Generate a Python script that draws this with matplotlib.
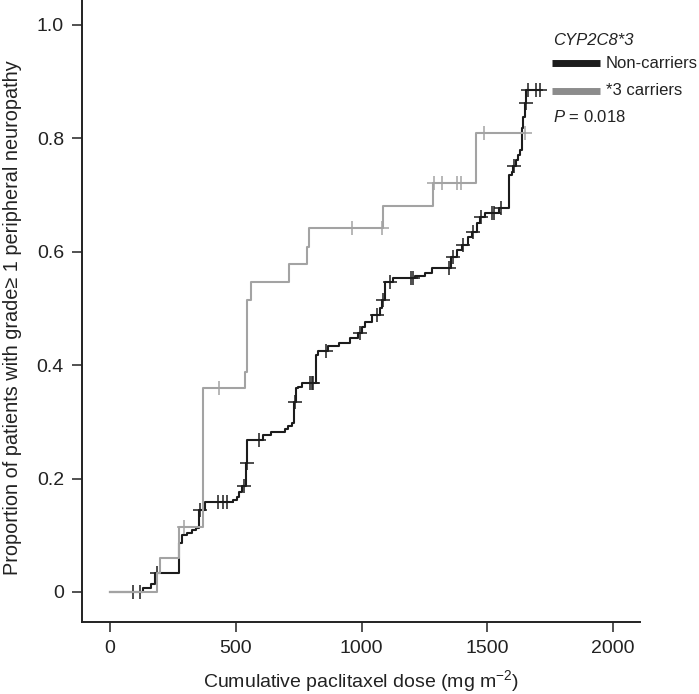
import numpy as np
import matplotlib
matplotlib.use("Agg")
import matplotlib.pyplot as plt
from matplotlib.lines import Line2D

plt.rcParams['font.family'] = ['Liberation Sans', 'DejaVu Sans']
plt.rcParams['mathtext.fontset'] = 'custom'
plt.rcParams['mathtext.rm'] = 'Liberation Sans'
plt.rcParams['mathtext.it'] = 'Liberation Sans:italic'

# non-carriers: event doses and cumulative proportion after each step
black_dose = [0, 131, 163, 179, 274, 286, 306, 326, 342, 354, 378, 489, 505, 513,
              525, 541, 545, 608, 640, 696, 708, 724, 732, 740, 748, 763, 819, 827,
              867, 911, 954, 986, 1002, 1014, 1042, 1074, 1082, 1093, 1125, 1213,
              1252, 1280, 1356, 1380, 1400, 1423, 1439, 1459, 1471, 1491, 1547,
              1586, 1598, 1602, 1614, 1622, 1630, 1638, 1642, 1650, 1654]
black_prop = [0, 0.007, 0.014, 0.034, 0.086, 0.100, 0.104, 0.109, 0.113, 0.145,
              0.159, 0.162, 0.168, 0.176, 0.187, 0.228, 0.268, 0.277, 0.282, 0.287,
              0.292, 0.298, 0.335, 0.360, 0.362, 0.368, 0.418, 0.425, 0.434, 0.439,
              0.448, 0.457, 0.468, 0.476, 0.488, 0.500, 0.515, 0.547, 0.553, 0.557,
              0.563, 0.571, 0.590, 0.603, 0.612, 0.626, 0.635, 0.650, 0.662, 0.668,
              0.677, 0.735, 0.741, 0.751, 0.762, 0.771, 0.779, 0.818, 0.838, 0.862,
              0.885]
black_censor = [91, 121, 187, 360, 429, 449, 465, 533, 543, 593, 736, 795, 803, 809,
                859, 994, 1062, 1086, 1113, 1197, 1205, 1348, 1364, 1404, 1443, 1475,
                1519, 1527, 1555, 1606, 1652, 1662, 1692, 1708]

# *3 carriers
gray_dose = [0, 187, 199, 274, 370, 537, 545, 561, 712, 783, 792, 1087, 1284, 1455]
gray_prop = [0, 0.034, 0.060, 0.115, 0.360, 0.388, 0.515, 0.547, 0.578, 0.608,
             0.642, 0.681, 0.721, 0.810]
gray_censor = [294, 433, 962, 1083, 1290, 1320, 1380, 1396, 1487, 1650]

BLACK = '#1c1c1c'
GRAY = '#a3a3a3'


def step_value(dose, prop, x):
    idx = np.searchsorted(dose, x, side='right') - 1
    return np.asarray(prop)[idx]


fig = plt.figure(figsize=(6.99, 6.94), dpi=100)
ax = fig.add_axes([0.1173, 0.1037, 0.7983, 0.8963])

for dose, prop, cens, col, z in [(black_dose, black_prop, black_censor, BLACK, 2),
                                 (gray_dose, gray_prop, gray_censor, GRAY, 3)]:
    xs = list(dose) + [max(cens)]
    ys = list(prop) + [prop[-1]]
    ax.step(xs, ys, where='post', color=col, lw=1.5, zorder=z)
    ax.plot(cens, step_value(dose, prop, cens), linestyle='none', marker='+',
            ms=10, mew=1.1, color=col, zorder=z)

ax.set_xlim(-111, 2107)
ax.set_ylim(-0.053, 1.044)
ax.set_xticks([0, 500, 1000, 1500, 2000])
ax.set_yticks([0, 0.2, 0.4, 0.6, 0.8, 1.0])
ax.set_yticklabels(['0', '0.2', '0.4', '0.6', '0.8', '1.0'])
for s in ['top', 'right']:
    ax.spines[s].set_visible(False)
for s in ['left', 'bottom']:
    ax.spines[s].set_linewidth(1.4)
    ax.spines[s].set_color('#222222')
ax.tick_params(direction='out', length=7, width=1.1, labelsize=14, pad=6,
               colors='#222222')
ax.set_xlabel('Cumulative paclitaxel dose (mg m$^{-2}$)', fontsize=14,
              color='#222222', labelpad=8)
ax.set_ylabel('Proportion of patients with grade\u2265 1 peripheral neuropathy',
              fontsize=14.3, color='#222222')
ax.yaxis.set_label_coords(-0.107, 0.49)

# legend block
lx = 0.789
fig.text(lx + 0.002, 0.942, 'CYP2C8*3', fontsize=12, style='italic', va='center',
         color='#222222')
fig.add_artist(Line2D([lx, lx + 0.070], [0.909, 0.909], color=BLACK, lw=5,
                      solid_capstyle='butt', transform=fig.transFigure))
fig.add_artist(Line2D([lx, lx + 0.070], [0.869, 0.869], color='#8c8c8c', lw=5,
                      solid_capstyle='butt', transform=fig.transFigure))
fig.text(lx + 0.078, 0.909, 'Non-carriers', fontsize=12, va='center',
         color='#222222')
fig.text(lx + 0.078, 0.869, '*3 carriers', fontsize=12, va='center',
         color='#222222')
fig.text(lx + 0.002, 0.832, '$P$ = 0.018', fontsize=12, va='center',
         color='#222222')

fig.savefig('out.png', dpi=100)
